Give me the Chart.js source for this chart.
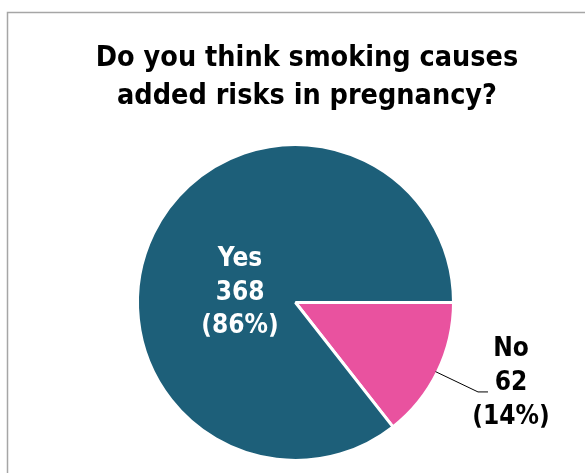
<!DOCTYPE html>
<html>
<head>
<meta charset="utf-8">
<script src="https://cdn.jsdelivr.net/npm/chart.js@4/dist/chart.umd.min.js"></script>
<style>
  html, body { margin: 0; padding: 0; background: #ffffff; }
  #wrap { width: 585px; height: 473px; position: relative; }
</style>
</head>
<body>
<div id="wrap"><canvas id="c" width="585" height="473"></canvas></div>
<script>
// Survey answers
const titleLines = ['Do you think smoking causes', 'added risks in pregnancy?'];
const categories = ['No', 'Yes'];
const counts = [62, 368];
const percents = [14, 86];
const sliceColors = ['#e9529f', '#1d5f79'];

const FONT = '"DejaVu Sans Condensed", "DejaVu Sans", sans-serif';

// Frame on the left and top edges, plus the two-line heading
const framePlugin = {
  id: 'frame',
  beforeDraw(chart) {
    const ctx = chart.ctx;
    ctx.save();
    ctx.strokeStyle = '#a6a6a6';
    ctx.lineWidth = 1.5;
    ctx.beginPath();
    ctx.moveTo(7.5, chart.height);
    ctx.lineTo(7.5, 12.5);
    ctx.lineTo(chart.width, 12.5);
    ctx.stroke();
    ctx.fillStyle = '#000000';
    ctx.font = 'bold 28.5px ' + FONT;
    ctx.textAlign = 'center';
    ctx.textBaseline = 'middle';
    titleLines.forEach((t, i) => ctx.fillText(t, 307, 59 + i * 38));
    ctx.restore();
  }
};

// Category / count / percent labels placed from each arc's geometry
const labelPlugin = {
  id: 'sliceLabels',
  afterDatasetsDraw(chart) {
    const ctx = chart.ctx;
    const meta = chart.getDatasetMeta(0);
    ctx.save();
    ctx.font = 'bold 26px ' + FONT;
    ctx.textAlign = 'center';
    ctx.textBaseline = 'middle';
    meta.data.forEach((arc, i) => {
      const p = arc.getProps(['x', 'y', 'startAngle', 'endAngle', 'outerRadius'], true);
      const mid = (p.startAngle + p.endAngle) / 2;
      const r = p.outerRadius;
      const lines = [categories[i], String(counts[i]), '(' + percents[i] + '%)'];
      if (categories[i] === 'Yes') {
        const cx = p.x - r * 0.351;
        const cy = p.y - r * 0.06;
        ctx.fillStyle = '#ffffff';
        lines.forEach((t, k) => ctx.fillText(t, cx, cy + (k - 1) * 33.5));
      } else {
        const ex = p.x + Math.cos(mid) * r;
        const ey = p.y + Math.sin(mid) * r;
        const kx = p.x + r * 1.155;
        const ky = p.y + r * 0.566;
        ctx.strokeStyle = '#000000';
        ctx.lineWidth = 1;
        ctx.beginPath();
        ctx.moveTo(ex - 2, ey);
        ctx.lineTo(kx, ky);
        ctx.lineTo(kx + 10, ky);
        ctx.stroke();
        const cx = p.x + r * 1.364;
        const cy = p.y + r * 0.51;
        ctx.fillStyle = '#000000';
        lines.forEach((t, k) => ctx.fillText(t, cx, cy + (k - 1) * 34));
      }
    });
    ctx.restore();
  }
};

new Chart(document.getElementById('c'), {
  type: 'pie',
  data: {
    labels: categories,
    datasets: [{
      data: counts,
      backgroundColor: sliceColors,
      borderColor: '#ffffff',
      borderWidth: 3
    }]
  },
  options: {
    responsive: false,
    animation: false,
    rotation: 90,
    layout: { padding: { top: 143, bottom: 11, left: 136, right: 130 } },
    plugins: {
      legend: { display: false },
      title: { display: false },
      tooltip: { enabled: false }
    }
  },
  plugins: [framePlugin, labelPlugin]
});
</script>
</body>
</html>
